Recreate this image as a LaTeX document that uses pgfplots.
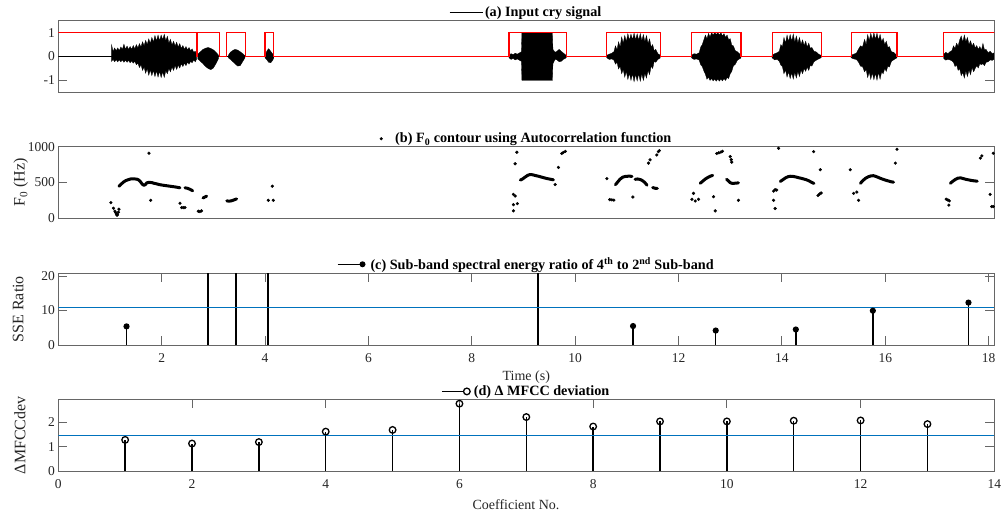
\documentclass[border=0pt]{standalone}
\usepackage{fontspec}
\setmainfont{Liberation Serif}
\usepackage{pgfplots}
\pgfplotsset{compat=1.18}
\definecolor{mlblue}{RGB}{0,114,189}
\pgfplotsset{
  base/.style={
    scale only axis, width=936pt, height=71.7pt, anchor=north west,
    axis line style={black!60, line width=0.9pt},
    tick style={black!60, line width=0.9pt},
    tick align=inside, major tick length=9pt,
    tick label style={font=\fontsize{13.5}{14}\selectfont, text=black!85},
    xlabel style={font=\fontsize{14}{15}\selectfont, text=black!85},
    ylabel style={font=\fontsize{16}{17}\selectfont, text=black!85},
    /pgf/number format/assume math mode=true,
    /pgf/number format/1000 sep={},
    legend style={at={(0.5,1)}, anchor=south, draw=none, fill=none,
      font=\fontsize{14.2}{15}\selectfont\bfseries, inner sep=0pt},
    legend cell align=left,
    xticklabel style={yshift=-5pt},
    ylabel style={at={(axis description cs:-0.041,0.5)}, anchor=center},
  },
  wave/.style={fill=black, draw=black, line width=0.3pt, forget plot},
  cont/.style={black, line width=3pt, line cap=round, line join=round, forget plot},
  thr/.style={draw=mlblue, line width=1.5pt, forget plot},
}
\begin{document}
\begin{tikzpicture}
\path[use as bounding box] (0,0) rectangle (1003pt,517pt);

% ---------------- (a) ----------------
\begin{axis}[base, at={(58.3pt,496.3pt)}, xmin=0, xmax=18.11, ymin=-1.5, ymax=1.5,
  ytick={-1,0,1}, xtick=\empty,
  legend image code/.code={\draw[black, line width=0.8pt] (0pt,0pt) -- (33pt,0pt);}]
\addplot[black, line width=0.8pt] coordinates {(0,0) (18.11,0)};
\addlegendentry{(a) Input cry signal}
\addplot[wave] coordinates {
(1.032,0.48) (1.06,0.22) (1.09,0.36) (1.12,0.24) (1.15,0.36) (1.18,0.25) (1.21,0.4) (1.24,0.3) (1.27,0.52) (1.30,0.3) (1.33,0.44) (1.36,0.3) (1.39,0.42) (1.42,0.3) (1.45,0.46) (1.48,0.32) (1.51,0.5) (1.54,0.36) (1.57,0.54) (1.60,0.4) (1.63,0.62) (1.66,0.45) (1.69,0.68) (1.72,0.5) (1.75,0.74) (1.78,0.55) (1.81,0.8) (1.84,0.6) (1.87,0.88) (1.90,0.65) (1.93,0.9) (1.96,0.66) (1.99,0.9) (2.02,0.7) (2.05,0.93) (2.08,0.66) (2.11,0.85) (2.14,0.56) (2.17,0.72) (2.20,0.48) (2.23,0.64) (2.26,0.44) (2.29,0.6) (2.32,0.4) (2.35,0.54) (2.38,0.34) (2.41,0.46) (2.44,0.3) (2.47,0.42) (2.50,0.28) (2.53,0.38) (2.56,0.24) (2.59,0.32) (2.62,0.18) (2.65,0.22) (2.677,0.1)
(2.677,-0.1) (2.65,-0.22) (2.62,-0.14) (2.59,-0.26) (2.56,-0.2) (2.53,-0.32) (2.50,-0.24) (2.47,-0.38) (2.44,-0.28) (2.41,-0.42) (2.38,-0.3) (2.35,-0.48) (2.32,-0.36) (2.29,-0.54) (2.26,-0.38) (2.23,-0.58) (2.20,-0.44) (2.17,-0.64) (2.14,-0.5) (2.11,-0.72) (2.08,-0.6) (2.05,-0.87) (2.02,-0.64) (1.99,-0.88) (1.96,-0.62) (1.93,-0.86) (1.90,-0.6) (1.87,-0.84) (1.84,-0.58) (1.81,-0.8) (1.78,-0.56) (1.75,-0.78) (1.72,-0.5) (1.69,-0.7) (1.66,-0.44) (1.63,-0.58) (1.60,-0.34) (1.57,-0.46) (1.54,-0.28) (1.51,-0.34) (1.48,-0.2) (1.45,-0.28) (1.42,-0.18) (1.39,-0.26) (1.36,-0.16) (1.33,-0.24) (1.30,-0.15) (1.27,-0.24) (1.24,-0.14) (1.21,-0.22) (1.18,-0.14) (1.15,-0.22) (1.12,-0.13) (1.09,-0.22) (1.06,-0.12) (1.032,-0.2)
} -- cycle;
\addplot[wave] coordinates {
(2.70,0.1) (2.75,0.2) (2.80,0.3) (2.85,0.35) (2.90,0.38) (2.95,0.34) (3.00,0.28) (3.05,0.18) (3.10,0.06)
(3.10,-0.08) (3.05,-0.3) (3.00,-0.48) (2.95,-0.55) (2.90,-0.5) (2.85,-0.42) (2.80,-0.3) (2.75,-0.2) (2.70,-0.1)
} -- cycle;
\addplot[wave] coordinates {
(3.29,0.05) (3.33,0.18) (3.38,0.26) (3.42,0.3) (3.47,0.27) (3.52,0.2) (3.57,0.12) (3.61,0.04)
(3.61,-0.06) (3.57,-0.2) (3.52,-0.38) (3.47,-0.4) (3.42,-0.3) (3.38,-0.22) (3.33,-0.12) (3.29,-0.05)
} -- cycle;
\addplot[wave] coordinates {
(4.00,0.05) (4.04,0.25) (4.07,0.33) (4.11,0.22) (4.15,0.1) (4.17,0.03)
(4.17,-0.05) (4.15,-0.15) (4.11,-0.26) (4.07,-0.24) (4.04,-0.15) (4.00,-0.05)
} -- cycle;
\addplot[wave] coordinates {
(8.72,0.05) (8.76,0.12) (8.80,0.08) (8.84,0.14) (8.88,0.1) (8.92,0.15) (8.96,0.2) (8.97,1.0) (9.56,1.0) (9.57,0.3) (9.61,0.18) (9.65,0.22) (9.69,0.3) (9.73,0.22) (9.77,0.15) (9.81,0.08) (9.83,0.03)
(9.83,-0.03) (9.81,-0.08) (9.77,-0.12) (9.73,-0.2) (9.69,-0.22) (9.65,-0.14) (9.61,-0.12) (9.57,-0.3) (9.56,-1.0) (8.97,-1.0) (8.96,-0.2) (8.92,-0.15) (8.88,-0.1) (8.84,-0.14) (8.80,-0.08) (8.76,-0.12) (8.72,-0.05)
} -- cycle;
\addplot[wave] coordinates {
(10.61,0.05) (10.66,0.1) (10.71,0.14) (10.75,0.2) (10.78,0.45) (10.81,0.28) (10.84,0.62) (10.87,0.4) (10.90,0.82) (10.93,0.56) (10.96,0.88) (10.99,0.62) (11.02,0.96) (11.05,0.68) (11.08,0.94) (11.11,0.7) (11.14,0.98) (11.17,0.7) (11.20,0.95) (11.23,0.68) (11.26,0.96) (11.29,0.66) (11.32,0.92) (11.35,0.62) (11.38,0.88) (11.41,0.54) (11.44,0.74) (11.47,0.4) (11.50,0.5) (11.53,0.24) (11.56,0.3) (11.60,0.12) (11.646,0.06)
(11.646,-0.06) (11.60,-0.12) (11.56,-0.24) (11.53,-0.2) (11.50,-0.5) (11.47,-0.4) (11.44,-0.76) (11.41,-0.58) (11.38,-0.9) (11.35,-0.7) (11.32,-1.0) (11.29,-0.72) (11.26,-1.03) (11.23,-0.72) (11.20,-1.02) (11.17,-0.74) (11.14,-1.05) (11.11,-0.72) (11.08,-1.0) (11.05,-0.7) (11.02,-0.96) (10.99,-0.62) (10.96,-0.86) (10.93,-0.54) (10.90,-0.72) (10.87,-0.4) (10.84,-0.52) (10.81,-0.24) (10.78,-0.32) (10.75,-0.15) (10.71,-0.1) (10.66,-0.12) (10.61,-0.05)
} -- cycle;
\addplot[wave] coordinates {
(12.25,0.05) (12.30,0.12) (12.35,0.1) (12.40,0.16) (12.43,0.4) (12.46,0.5) (12.49,0.7) (12.52,0.9) (12.55,0.74) (12.58,0.97) (12.61,0.82) (12.64,1.0) (12.67,0.9) (12.70,1.0) (12.73,0.92) (12.76,1.0) (12.79,0.9) (12.82,1.0) (12.85,0.86) (12.88,0.96) (12.91,0.8) (12.94,0.9) (12.97,0.7) (13.00,0.75) (13.03,0.48) (13.06,0.45) (13.10,0.24) (13.14,0.2) (13.208,0.06)
(13.208,-0.06) (13.14,-0.15) (13.10,-0.32) (13.06,-0.4) (13.03,-0.62) (13.00,-0.72) (12.97,-0.92) (12.94,-0.88) (12.91,-1.0) (12.88,-0.92) (12.85,-1.02) (12.82,-0.94) (12.79,-1.03) (12.76,-0.94) (12.73,-1.03) (12.70,-0.94) (12.67,-1.02) (12.64,-0.92) (12.61,-1.0) (12.58,-0.86) (12.55,-0.95) (12.52,-0.74) (12.49,-0.6) (12.46,-0.42) (12.43,-0.35) (12.40,-0.15) (12.35,-0.1) (12.30,-0.12) (12.25,-0.05)
} -- cycle;
\addplot[wave] coordinates {
(13.81,0.05) (13.86,0.12) (13.91,0.16) (13.95,0.22) (13.98,0.5) (14.01,0.4) (14.04,0.8) (14.07,0.56) (14.10,0.9) (14.13,0.62) (14.16,0.92) (14.19,0.64) (14.22,0.94) (14.25,0.6) (14.28,0.86) (14.31,0.56) (14.34,0.8) (14.37,0.5) (14.40,0.7) (14.43,0.46) (14.46,0.64) (14.49,0.4) (14.52,0.56) (14.55,0.34) (14.58,0.38) (14.62,0.22) (14.66,0.2) (14.71,0.1) (14.76,0.05)
(14.76,-0.05) (14.71,-0.1) (14.66,-0.16) (14.62,-0.22) (14.58,-0.4) (14.55,-0.36) (14.52,-0.58) (14.49,-0.44) (14.46,-0.62) (14.43,-0.5) (14.40,-0.72) (14.37,-0.56) (14.34,-0.84) (14.31,-0.62) (14.28,-0.9) (14.25,-0.66) (14.22,-0.94) (14.19,-0.68) (14.16,-0.92) (14.13,-0.64) (14.10,-0.86) (14.07,-0.56) (14.04,-0.72) (14.01,-0.42) (13.98,-0.36) (13.95,-0.2) (13.91,-0.12) (13.86,-0.14) (13.81,-0.05)
} -- cycle;
\addplot[wave] coordinates {
(15.34,0.05) (15.39,0.1) (15.44,0.14) (15.48,0.3) (15.52,0.45) (15.56,0.4) (15.60,0.72) (15.63,0.5) (15.66,0.92) (15.69,0.66) (15.72,0.98) (15.75,0.7) (15.78,1.0) (15.81,0.72) (15.84,0.98) (15.87,0.68) (15.90,0.93) (15.93,0.62) (15.96,0.76) (15.99,0.5) (16.02,0.64) (16.05,0.38) (16.08,0.42) (16.12,0.2) (16.16,0.18) (16.227,0.05)
(16.227,-0.05) (16.16,-0.14) (16.12,-0.2) (16.08,-0.44) (16.05,-0.4) (16.02,-0.62) (15.99,-0.5) (15.96,-0.72) (15.93,-0.64) (15.90,-0.95) (15.87,-0.66) (15.84,-0.99) (15.81,-0.7) (15.78,-0.97) (15.75,-0.68) (15.72,-0.95) (15.69,-0.64) (15.66,-0.88) (15.63,-0.54) (15.60,-0.64) (15.56,-0.42) (15.52,-0.4) (15.48,-0.22) (15.44,-0.12) (15.39,-0.1) (15.34,-0.05)
} -- cycle;
\addplot[wave] coordinates {
(17.13,0.08) (17.17,0.18) (17.21,0.12) (17.25,0.2) (17.29,0.25) (17.32,0.45) (17.35,0.34) (17.38,0.56) (17.41,0.44) (17.44,0.7) (17.47,0.86) (17.50,0.6) (17.53,0.9) (17.56,0.62) (17.59,0.8) (17.62,0.5) (17.65,0.66) (17.68,0.44) (17.71,0.56) (17.74,0.36) (17.77,0.46) (17.80,0.3) (17.83,0.42) (17.86,0.26) (17.89,0.55) (17.92,0.28) (17.95,0.3) (17.99,0.16) (18.03,0.22) (18.07,0.12) (18.10,0.15)
(18.10,-0.12) (18.07,-0.16) (18.03,-0.14) (17.99,-0.22) (17.95,-0.24) (17.92,-0.38) (17.89,-0.3) (17.86,-0.34) (17.83,-0.3) (17.80,-0.48) (17.77,-0.38) (17.74,-0.5) (17.71,-0.64) (17.68,-0.46) (17.65,-0.76) (17.62,-0.56) (17.59,-0.84) (17.56,-0.6) (17.53,-0.9) (17.50,-0.66) (17.47,-0.8) (17.44,-0.5) (17.41,-0.58) (17.38,-0.34) (17.35,-0.42) (17.32,-0.24) (17.29,-0.18) (17.25,-0.14) (17.21,-0.12) (17.17,-0.15) (17.13,-0.08)
} -- cycle;
\addplot[red, line width=1.2pt, forget plot] coordinates {
(0,1) (2.677,1) (2.677,0) (2.69,0) (2.69,1) (3.115,1) (3.115,0) (3.258,0) (3.258,1) (3.626,1) (3.626,0) (3.999,0) (3.999,1) (4.160,1) (4.160,0) (8.722,0) (8.722,1) (9.832,1) (9.832,0) (10.614,0) (10.614,1) (11.646,1) (11.646,0) (12.246,0) (12.246,1) (13.208,1) (13.208,0) (13.813,0) (13.813,1) (14.762,1) (14.762,0) (15.342,0) (15.342,1) (16.227,1) (16.227,0) (17.129,0) (17.129,1) (18.2,1)};
\end{axis}

% ---------------- (b) ----------------
\begin{axis}[base, at={(58.3pt,370.3pt)}, xmin=0, xmax=18.11, ymin=0, ymax=1000,
  ytick={0,500,1000}, xtick=\empty,
  ylabel={F\textsubscript{0} (Hz)},
  ylabel style={at={(axis description cs:-0.040,0.5)}},
  legend image code/.code={\path[draw=none] (-2pt,0pt) rectangle (12pt,0.1pt); \fill[black] (0pt,0pt) circle (1.3pt);}]
\addplot[only marks, mark=*, mark size=1.4pt, black] coordinates {
(1.018,220) (1.067,142) (1.096,101) (1.125,59) (1.144,52) (1.163,87) (1.173,128) (1.11,80) (1.135,45)
(1.754,909) (1.787,252)
(2.354,211) (2.387,151) (2.42,150) (2.451,151)
(2.71,100) (2.74,95) (2.77,105)
(4.063,252) (4.160,252) (4.141,449)
(8.872,923) (8.839,762) (8.806,335) (8.84,312) (8.883,206) (8.806,192) (8.806,105)
(9.613,472) (9.677,711)
(9.74,905) (9.77,920) (9.81,935)
(10.614,555)
(10.67,262) (10.71,258) (10.75,255)
(11.117,298)
(11.42,771) (11.45,817) (11.58,885) (11.61,931) (11.63,945)
(12.29,349) (12.259,266) (12.323,243) (12.387,266)
(12.677,303) (12.71,105)
(12.74,905) (12.78,915) (12.82,925) (12.85,935)
(13.00,862) (13.02,820) (13.03,785)
(13.16,252)
(13.84,381) (13.87,400) (13.90,395) (13.839,252) (13.87,138) (13.936,978)
(14.614,931) (14.743,679) (14.70,320) (14.73,340) (14.76,355)
(15.323,679) (15.387,349) (15.45,367) (15.484,252)
(16.195,771) (16.227,964)
(17.18,268) (17.21,258) (17.24,245) (17.23,185)
(17.84,840) (17.87,872)
(18.03,335) (18.06,165) (18.09,165) (18.09,909)};
\addlegendentry{(b) F\textsubscript{0} contour using Autocorrelation function}
\addplot[cont] coordinates {(1.173,449) (1.22,480) (1.257,505) (1.30,525) (1.353,540) (1.40,550) (1.45,552) (1.515,548) (1.55,538) (1.58,520) (1.61,492) (1.632,472) (1.66,462) (1.69,475) (1.709,495) (1.75,502) (1.806,500) (1.85,490) (1.903,482) (1.95,472) (2.0,466) (2.05,460) (2.10,455) (2.16,449) (2.25,440) (2.354,427)};
\addplot[cont] coordinates {(2.451,427) (2.50,420) (2.55,405) (2.60,385)};
\addplot[cont] coordinates {(2.80,285) (2.84,300) (2.87,310)};
\addplot[cont] coordinates {(3.26,245) (3.30,240) (3.35,245) (3.40,258) (3.45,272)};
\addplot[cont] coordinates {(8.94,535) (8.98,548) (9.03,575) (9.08,600) (9.13,612) (9.18,608) (9.23,598) (9.28,590) (9.33,580) (9.38,570) (9.43,560) (9.48,552) (9.53,545) (9.58,538)};
\addplot[cont] coordinates {(10.78,470) (10.82,505) (10.87,548) (10.92,575) (10.97,585) (11.02,588) (11.07,588) (11.10,585)};
\addplot[cont] coordinates {(11.16,545) (11.21,550) (11.27,540) (11.32,518) (11.36,490) (11.39,463)};
\addplot[cont] coordinates {(11.50,430) (11.55,420) (11.59,418)};
\addplot[cont] coordinates {(12.42,490) (12.47,520) (12.52,550) (12.57,572) (12.62,590) (12.66,600)};
\addplot[cont] coordinates {(12.93,545) (12.97,520) (13.00,498) (13.04,488) (13.08,490) (13.12,492) (13.16,496)};
\addplot[cont] coordinates {(13.97,515) (14.02,540) (14.07,565) (14.12,582) (14.17,588) (14.22,585) (14.27,578) (14.32,568) (14.37,560) (14.42,550) (14.47,540) (14.52,525) (14.57,505) (14.62,488)};
\addplot[cont] coordinates {(15.52,490) (15.57,530) (15.62,560) (15.67,580) (15.72,592) (15.77,596) (15.82,585) (15.87,570) (15.92,555) (15.97,542) (16.02,530) (16.07,520) (16.12,510) (16.16,505)};
\addplot[cont] coordinates {(17.26,490) (17.31,520) (17.36,545) (17.41,562) (17.46,565) (17.51,555) (17.56,545) (17.61,538) (17.66,530) (17.71,525) (17.76,520) (17.78,518)};
\end{axis}

% ---------------- (c) ----------------
\begin{axis}[base, at={(58.3pt,243.7pt)}, xmin=0, xmax=18.11, ymin=0, ymax=20.8,
  ytick={0,10,20}, xtick={2,4,...,18},
  ylabel={SSE Ratio},
  ylabel style={at={(axis description cs:-0.043,0.5)}},
  xlabel={Time (s)},
  xlabel style={at={(axis description cs:0.5,-0.446)}, anchor=center},
  legend image code/.code={\path[draw=none] (0pt,-0.1pt) rectangle (31pt,0.1pt); \draw[black, line width=1.2pt] (0pt,0pt) -- (25pt,0pt); \fill[black] (25pt,0pt) circle (2.2pt);}]
\addplot[ycomb, black, line width=1.5pt, mark=*, mark size=2.3pt] coordinates {
(1.32,5.4) (11.12,5.5) (12.72,4.2) (14.27,4.5) (15.76,9.95) (17.61,12.3)};
\addlegendentry{(c) Sub-band spectral energy ratio of 4\textsuperscript{th} to 2\textsuperscript{nd} Sub-band}
\addplot[ycomb, black, line width=1.5pt, forget plot] coordinates {
(2.90,20.8) (3.44,20.8) (4.06,20.8) (9.28,20.8)};
\addplot[thr] coordinates {(0,10.9) (18.11,10.9)};
\end{axis}

% ---------------- (d) ----------------
\begin{axis}[base, at={(58.3pt,117.7pt)}, xmin=0, xmax=14, ymin=0, ymax=2.95,
  ytick={0,1,2}, xtick={0,2,...,14},
  ylabel={ΔMFCCdev},
  ylabel style={at={(axis description cs:-0.041,0.5)}},
  xlabel={Coefficient No.},
  xlabel style={at={(axis description cs:0.489,-0.474)}, anchor=center},
  legend image code/.code={\path[draw=none] (0pt,-0.1pt) rectangle (30pt,0.1pt); \draw[black, line width=1.2pt] (0pt,0pt) -- (21.5pt,0pt); \draw[black, line width=1.3pt] (25pt,0pt) circle (3.3pt);}]
\addplot[ycomb, black, line width=1.4pt, mark=o, mark size=3.3pt, mark options={line width=1.3pt}] coordinates {
(1,1.28) (2,1.13) (3,1.19) (4,1.62) (5,1.69) (6,2.77) (7,2.22) (8,1.83) (9,2.04) (10,2.04) (11,2.07) (12,2.08) (13,1.93)};
\addlegendentry{(d) Δ MFCC deviation}
\addplot[thr] coordinates {(0,1.47) (14,1.47)};
\end{axis}
\end{tikzpicture}
\end{document}
